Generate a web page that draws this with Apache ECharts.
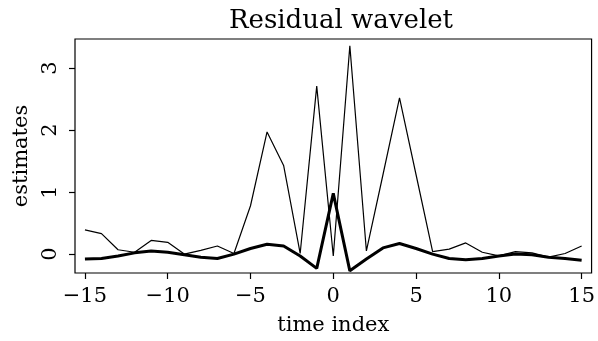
<!DOCTYPE html>
<html><head><meta charset="utf-8">
<script src="https://cdn.jsdelivr.net/npm/echarts@6/dist/echarts.min.js"></script>
<style>html,body{margin:0;padding:0;background:#fff}#c{width:598px;height:341px}</style>
</head><body><div id="c"></div>
<script>
var timeIndex = [-15,-14,-13,-12,-11,-10,-9,-8,-7,-6,-5,-4,-3,-2,-1,0,1,2,3,4,5,6,7,8,9,10,11,12,13,14,15];
var thinSeries = [0.39,0.33,0.07,0.03,0.22,0.19,0.00,0.06,0.13,0.01,0.78,1.97,1.43,0.01,2.71,-0.03,3.36,0.05,1.28,2.52,1.28,0.04,0.08,0.18,0.03,-0.03,0.04,0.02,-0.05,0.01,0.13];
var thickSeries = [-0.08,-0.07,-0.03,0.02,0.05,0.03,-0.01,-0.05,-0.07,0.00,0.09,0.16,0.13,-0.03,-0.23,0.98,-0.27,-0.08,0.10,0.17,0.09,0.00,-0.07,-0.09,-0.07,-0.03,0.00,-0.01,-0.05,-0.07,-0.10];
var xTicks = [-15,-10,-5,0,5,10,15];
var yTicks = [0,1,2,3];

function pairs(xs, ys){ return xs.map(function(x,i){ return [x, ys[i]]; }); }
function fmt(v){ return String(v).replace('-', '\u2212'); }
var FONT = 'DejaVu Serif';
var XMIN = -15.6, XMAX = 15.6, YMIN = -0.305, YMAX = 3.47;
var hiddenAxis = {type: 'value', min: 1, max: 2, show: false, axisLine: {show: false}, axisTick: {show: false}, axisLabel: {show: false}, splitLine: {show: false}};

var chart = echarts.init(document.getElementById('c'), null, {renderer:'canvas'});
chart.setOption({
  animation: false,
  backgroundColor: '#fff',
  title: {
    text: 'Residual wavelet', left: 336, top: 3, textAlign: 'center',
    textStyle: {fontFamily: FONT, fontSize: 26, fontWeight: 'normal', color: '#000'}
  },
  grid: {left: 75, right: 5, top: 39, bottom: 67,
         show: true, borderColor: '#000', borderWidth: 1.2, backgroundColor: 'transparent'},
  xAxis: [{
    type: 'value', min: XMIN, max: XMAX,
    name: 'time index', nameLocation: 'middle', nameGap: 42,
    nameTextStyle: {fontFamily: FONT, fontSize: 21, color: '#000'},
    axisLine: {show: false, onZero: true, onZeroAxisIndex: 1},
    axisTick: {show: true, inside: false, length: 6, customValues: xTicks, lineStyle: {color: '#000', width: 1.2}},
    axisLabel: {customValues: xTicks, formatter: fmt, margin: 13, fontFamily: FONT, fontSize: 21, color: '#000'},
    splitLine: {show: false}
  }, hiddenAxis],
  yAxis: [{
    type: 'value', min: YMIN, max: YMAX,
    name: 'estimates', nameLocation: 'middle', nameGap: 43, nameRotate: 90,
    nameTextStyle: {fontFamily: FONT, fontSize: 21, color: '#000'},
    axisLine: {show: false, onZero: true, onZeroAxisIndex: 1},
    axisTick: {show: true, inside: false, length: 6, customValues: yTicks, lineStyle: {color: '#000', width: 1.2}},
    axisLabel: {customValues: yTicks, formatter: fmt, rotate: 90, margin: 14, fontFamily: FONT, fontSize: 21, color: '#000'},
    splitLine: {show: false}
  }, hiddenAxis],
  series: [
    {type: 'line', xAxisIndex: 0, yAxisIndex: 0, data: pairs(timeIndex, thinSeries), symbol: 'none', lineStyle: {color: '#000', width: 1.2}},
    {type: 'line', xAxisIndex: 0, yAxisIndex: 0, data: pairs(timeIndex, thickSeries), symbol: 'none', lineStyle: {color: '#000', width: 3}}
  ]
});
</script></body></html>
